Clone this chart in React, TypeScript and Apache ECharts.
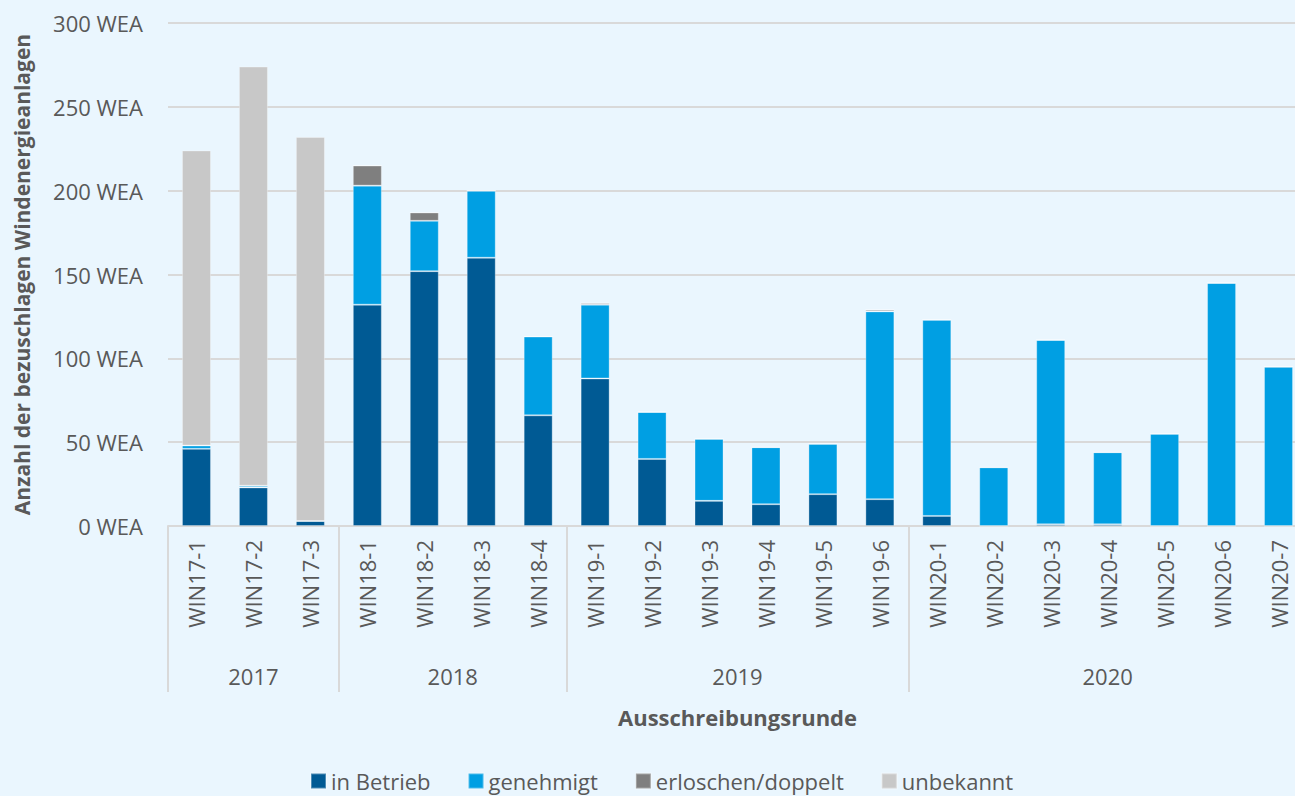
import React, { useEffect, useRef } from "react";
import * as echarts from "echarts";

const categories = [
  "WIN17-1", "WIN17-2", "WIN17-3",
  "WIN18-1", "WIN18-2", "WIN18-3", "WIN18-4",
  "WIN19-1", "WIN19-2", "WIN19-3", "WIN19-4", "WIN19-5", "WIN19-6",
  "WIN20-1", "WIN20-2", "WIN20-3", "WIN20-4", "WIN20-5", "WIN20-6", "WIN20-7",
];
const years = ["2017", "2018", "2019", "2020"];
const yearCounts = [3, 4, 6, 7];

const inBetrieb = [46, 23, 3, 132, 152, 160, 66, 88, 40, 15, 13, 19, 16, 6, 0, 1, 1, 0, 0, 0];
const genehmigt = [2, 1, 0, 71, 30, 40, 47, 44, 28, 37, 34, 30, 112, 117, 35, 110, 43, 55, 145, 95];
const erloschen = [0, 0, 0, 12, 5, 0, 0, 1, 0, 0, 0, 0, 1, 0, 0, 0, 0, 0, 0, 0];
const unbekannt = [176, 250, 229, 0, 0, 0, 0, 0, 0, 0, 0, 0, 0, 0, 0, 0, 0, 0, 0, 0];

const yMin = 0;
const yMax = 300;
const yStep = 50;
const yUnit = "WEA";

const seriesNames = ["in Betrieb", "genehmigt", "erloschen/doppelt", "unbekannt"];
const seriesData = [inBetrieb, genehmigt, erloschen, unbekannt];
const seriesColors = ["#005a94", "#009fe3", "#7f7f7f", "#c8c8c8"];

const TEXT = "#595959";
const GRID = "#d9d9d9";
const FONT = "'Open Sans', 'Noto Sans', sans-serif";

export default function App() {
  const ref = useRef<HTMLDivElement>(null);

  useEffect(() => {
    if (!ref.current) return;
    const chart = echarts.init(ref.current, undefined, { renderer: "svg" });

    // half-category positions for the year grouping axis
    const n = categories.length;
    const groupData: string[] = new Array(2 * n + 1).fill("");
    const boundaries = new Set<number>();
    let start = 0;
    boundaries.add(0);
    yearCounts.forEach((c, i) => {
      groupData[start + c] = years[i];
      start += 2 * c;
      boundaries.add(start);
    });

    chart.setOption({
      animation: false,
      backgroundColor: "#eaf6fe",
      textStyle: { fontFamily: FONT },
      grid: {
        left: 168,
        width: 1139,
        top: 23,
        bottom: 270,
        containLabel: false,
        outerBoundsMode: "none",
      },
      legend: {
        data: seriesNames,
        bottom: -1,
        left: 305,
        icon: "rect",
        itemWidth: 15,
        itemHeight: 15,
        itemGap: 37,
        textStyle: { color: TEXT, fontSize: 22, fontFamily: FONT },
      },
      xAxis: [
        {
          type: "category",
          data: categories,
          axisLine: { show: true, lineStyle: { color: GRID, width: 2 } },
          axisTick: { show: false },
          axisLabel: {
            rotate: 90,
            interval: 0,
            margin: 14,
            color: TEXT,
            fontSize: 22,
            fontFamily: FONT,
          },
        },
        {
          type: "category",
          position: "bottom",
          boundaryGap: false,
          data: groupData,
          axisLine: { show: false },
          axisTick: {
            show: true,
            length: 166,
            interval: (index: number) => boundaries.has(index),
            lineStyle: { color: GRID, width: 2 },
          },
          axisLabel: {
            interval: 0,
            margin: 139,
            color: TEXT,
            fontSize: 22,
            fontFamily: FONT,
          },
          name: "Ausschreibungsrunde",
          nameLocation: "middle",
          nameGap: 180,
          nameTextStyle: { color: TEXT, fontSize: 22, fontWeight: "bold", fontFamily: FONT },
        },
      ],
      yAxis: {
        type: "value",
        min: yMin,
        max: yMax,
        interval: yStep,
        axisLine: { show: false },
        axisTick: { show: false },
        splitLine: { lineStyle: { color: GRID, width: 2 } },
        axisLabel: {
          formatter: (v: number) => `${v} ${yUnit}`,
          color: TEXT,
          fontSize: 22,
          margin: 25,
          fontFamily: FONT,
        },
        name: "Anzahl der bezuschlagen Windenergieanlagen",
        nameLocation: "middle",
        nameGap: 136,
        nameRotate: 90,
        nameTextStyle: { color: TEXT, fontSize: 21, fontWeight: "bold", fontFamily: FONT },
      },
      series: seriesNames.map((name, i) => ({
        name,
        type: "bar",
        stack: "total",
        xAxisIndex: 0,
        barWidth: 29,
        data: seriesData[i],
        itemStyle: {
          color: seriesColors[i],
          borderColor: "rgba(255,255,255,0.3)",
          borderWidth: 1,
        },
      })),
    });

    return () => chart.dispose();
  }, []);

  return (
    <div
      ref={ref}
      style={{ position: "fixed", left: 0, top: 0, width: 1295, height: 796 }}
    />
  );
}
